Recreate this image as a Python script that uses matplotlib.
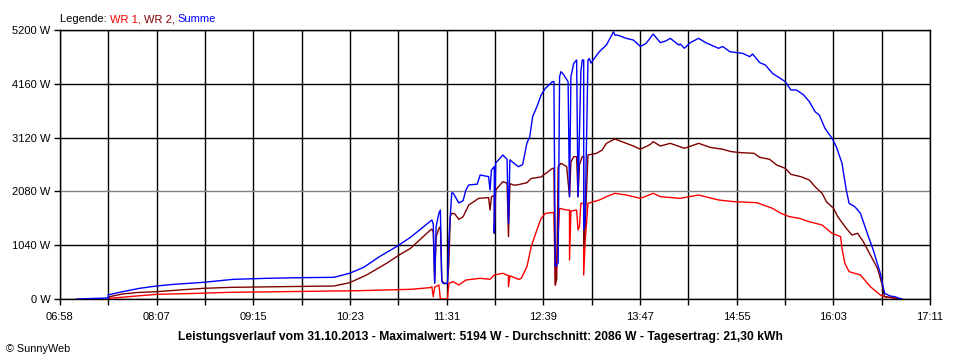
import matplotlib
matplotlib.use('Agg')
import matplotlib.pyplot as plt
import numpy as np
from matplotlib.offsetbox import TextArea, HPacker, AnchoredOffsetbox

plt.rcParams['font.family'] = ['Liberation Sans', 'DejaVu Sans']

# time labels on the x axis and the power scale
time_labels = ['06:58', '08:07', '09:15', '10:23', '11:31',
               '12:39', '13:47', '14:55', '16:03', '17:11']
power_ticks = [0, 1040, 2080, 3120, 4160, 5200]

# WR 1 (red)
wr1_times = ['07:33', '07:52', '08:06', '08:34', '08:58', '09:33', '10:29', '11:05', '11:19', '11:20',
             '11:21', '11:22', '11:25', '11:26', '11:29', '11:31', '11:32', '11:35', '11:39', '11:44',
             '11:54', '12:01', '12:04', '12:10', '12:14', '12:14', '12:15', '12:21', '12:23', '12:27',
             '12:30', '12:34', '12:37', '12:40', '12:45', '12:46', '12:47', '12:48', '12:50', '12:55',
             '12:57', '12:57', '12:58', '13:02', '13:03', '13:04', '13:05', '13:07', '13:07', '13:08',
             '13:10', '13:18', '13:23', '13:29', '13:37', '13:47', '13:56', '14:01', '14:15', '14:28',
             '14:42', '14:53', '15:09', '15:20', '15:26', '15:32', '15:39', '15:46', '15:55', '16:02',
             '16:08', '16:09', '16:11', '16:14', '16:22', '16:29', '16:36', '16:39', '16:50']
wr1_watts = [13, 58, 90, 109, 129, 141, 161, 187, 220, 238,
             45, 230, 270, 0, 0, 0, 303, 335, 270, 367,
             400, 380, 464, 497, 450, 238, 450, 380, 400, 625,
             1011, 1334, 1559, 1656, 1670, 1670, 270, 700, 1753, 1720,
             1720, 754, 1700, 1720, 1334, 1400, 1849, 1849, 464, 1100,
             1849, 1914, 1978, 2043, 2010, 1946, 2043, 1978, 1946, 2010,
             1914, 1881, 1862, 1753, 1656, 1591, 1559, 1494, 1430, 1270,
             1205, 980, 689, 528, 464, 238, 77, 45, 0]

# WR 2 (dark red)
wr2_times = ['07:32', '07:33', '07:42', '07:52', '08:06', '08:22', '08:39', '08:58', '09:33', '10:11',
             '10:22', '10:34', '10:48', '10:57', '11:05', '11:19', '11:20', '11:21', '11:22', '11:23',
             '11:25', '11:26', '11:27', '11:29', '11:31', '11:32', '11:33', '11:34', '11:36', '11:39',
             '11:42', '11:46', '11:53', '12:00', '12:01', '12:02', '12:04', '12:04', '12:05', '12:06',
             '12:10', '12:13', '12:14', '12:15', '12:18', '12:21', '12:27', '12:30', '12:37', '12:45',
             '12:46', '12:47', '12:48', '12:49', '12:51', '12:55', '12:57', '12:58', '13:00', '13:02',
             '13:03', '13:04', '13:06', '13:07', '13:07', '13:08', '13:10', '13:16', '13:20', '13:23',
             '13:29', '13:37', '13:42', '13:47', '13:54', '13:56', '14:01', '14:08', '14:18', '14:28',
             '14:36', '14:45', '14:51', '14:58', '15:07', '15:11', '15:18', '15:23', '15:29', '15:33',
             '15:40', '15:46', '15:50', '15:55', '15:58', '16:03', '16:06', '16:12', '16:16', '16:20',
             '16:24', '16:29', '16:34', '16:37', '16:39', '16:46', '16:51']
wr2_watts = [0, 45, 97, 125, 141, 174, 206, 225, 238, 251,
             315, 464, 689, 850, 980, 1334, 1350, 1300, 303, 1200,
             1366, 1400, 350, 300, 300, 700, 1600, 1656, 1650, 1540,
             1590, 1817, 1946, 1960, 1720, 1980, 2000, 1270, 2100, 2140,
             2268, 2240, 1205, 2230, 2200, 2210, 2249, 2330, 2360, 2526,
             2526, 270, 400, 2560, 2623, 2560, 1977, 2650, 2751, 2751,
             1977, 2600, 2751, 2751, 1011, 1400, 2783, 2816, 2880, 3009,
             3093, 3009, 2957, 2894, 2990, 3041, 2957, 3009, 2913, 3009,
             2932, 2894, 2848, 2829, 2816, 2739, 2700, 2590, 2526, 2410,
             2365, 2300, 2171, 2043, 1881, 1753, 1591, 1366, 1237, 1270,
             1108, 850, 593, 303, 45, 20, 0]

# Summe (blue)
sum_times = ['07:10', '07:32', '07:32', '07:42', '07:54', '08:06', '08:18', '08:39', '09:00', '09:24',
             '09:47', '10:11', '10:22', '10:32', '10:43', '10:55', '11:05', '11:20', '11:21', '11:22',
             '11:23', '11:25', '11:26', '11:27', '11:28', '11:31', '11:32', '11:34', '11:35', '11:39',
             '11:42', '11:44', '11:46', '11:52', '11:54', '12:00', '12:01', '12:02', '12:04', '12:04',
             '12:05', '12:10', '12:13', '12:14', '12:15', '12:18', '12:21', '12:24', '12:27', '12:29',
             '12:31', '12:34', '12:37', '12:40', '12:45', '12:46', '12:47', '12:49', '12:50', '12:51',
             '12:53', '12:56', '12:57', '12:58', '13:00', '13:02', '13:03', '13:04', '13:05', '13:06',
             '13:07', '13:07', '13:08', '13:10', '13:11', '13:12', '13:18', '13:23', '13:28', '13:29',
             '13:31', '13:37', '13:42', '13:47', '13:51', '13:56', '14:01', '14:05', '14:08', '14:14',
             '14:15', '14:18', '14:22', '14:28', '14:33', '14:42', '14:45', '14:50', '14:55', '14:59',
             '15:04', '15:06', '15:11', '15:15', '15:20', '15:29', '15:33', '15:37', '15:42', '15:46',
             '15:50', '15:53', '15:57', '16:02', '16:05', '16:09', '16:12', '16:14', '16:18', '16:22',
             '16:26', '16:31', '16:36', '16:39', '16:43', '16:46', '16:51']
sum_watts = [0, 20, 80, 141, 206, 251, 283, 322, 380, 400,
             412, 419, 497, 612, 818, 1011, 1193, 1527, 1450, 310,
             1400, 1662, 1720, 350, 300, 300, 1140, 2050, 2050, 1856,
             1900, 2107, 2204, 2220, 2397, 2365, 2107, 2494, 2560, 1276,
             2629, 2783, 2700, 1463, 2690, 2620, 2557, 2600, 3015, 3137,
             3524, 3717, 3943, 4073, 4202, 4202, 625, 700, 4300, 4395,
             4330, 4200, 1977, 4300, 4556, 4620, 1977, 3200, 4400, 4620,
             4620, 1334, 1527, 4620, 4650, 4560, 4781, 4910, 5167, 5100,
             5100, 5039, 5006, 4880, 4943, 5122, 4955, 4990, 5039, 4910,
             4930, 4846, 4955, 5039, 4955, 4846, 4880, 4781, 4762, 4749,
             4684, 4736, 4569, 4523, 4363, 4202, 4040, 4040, 3943, 3814,
             3621, 3557, 3299, 3106, 2944, 2623, 2107, 1849, 1785, 1656,
             1334, 947, 497, 110, 58, 45, 0]

title = ('Leistungsverlauf vom 31.10.2013 - Maximalwert: 5194 W - '
         'Durchschnitt: 2086 W - Tagesertrag: 21,30 kWh')


def to_min(t):
    h, m = t.split(':')
    return int(h) * 60 + int(m)


t_start = to_min(time_labels[0])
t_end = to_min(time_labels[-1])

fig = plt.figure(figsize=(9.6, 3.6), dpi=100)
ax = fig.add_axes([60 / 960, 1 - 299 / 360, 870 / 960, 269 / 360])

# grid: vertical every half label step, horizontal at each power tick (2080 in grey)
xticks = np.linspace(t_start, t_end, 2 * len(time_labels) - 1)
for x in xticks:
    ax.axvline(x, color='black', lw=1.0, zorder=1)
for v in power_ticks:
    ax.axhline(v, color='#808080' if v == 2080 else 'black', lw=1.0, zorder=1)

ax.plot([to_min(t) for t in wr1_times], wr1_watts, color='#ff0000', lw=1.0, zorder=3)
ax.plot([to_min(t) for t in wr2_times], wr2_watts, color='#800000', lw=1.0, zorder=3)
ax.plot([to_min(t) for t in sum_times], sum_watts, color='#0000ff', lw=1.0, zorder=4)

ax.set_xlim(t_start, t_end)
ax.set_ylim(0, 5200)
ax.set_xticks(xticks)
xlabels = []
for i in range(len(xticks)):
    xlabels.append(time_labels[i // 2] if i % 2 == 0 else '')
ax.set_xticklabels(xlabels)
ax.set_yticks(power_ticks)
ax.set_yticklabels([f'{v} W' for v in power_ticks])
ax.tick_params(axis='both', direction='out', length=4, width=1.0, color='black',
               labelsize=8, pad=3)
ax.tick_params(axis='x', pad=5)
for s in ax.spines.values():
    s.set_color('black')
    s.set_linewidth(1.0)

# coloured legend line on top
parts = [('Legende: ', 'black'), ('WR 1, ', '#ff0000'), ('WR 2, ', '#800000'), ('Summe', '#0000ff')]
box = HPacker(children=[TextArea(s, textprops=dict(color=c, size=8)) for s, c in parts],
              align='baseline', pad=0, sep=0)
leg = AnchoredOffsetbox(loc='lower left', child=box, pad=0, borderpad=0, frameon=False,
                        bbox_to_anchor=(60 / 960, 1 - 24 / 360), bbox_transform=fig.transFigure)
fig.add_artist(leg)

fig.text(0.5, 1 - 337 / 360, title, ha='center', va='center', fontsize=8.7, fontweight='bold')
fig.text(6 / 960, 1 - 349 / 360, '© SunnyWeb', ha='left', va='center', fontsize=7.8)

fig.savefig('out.png', dpi=100)
